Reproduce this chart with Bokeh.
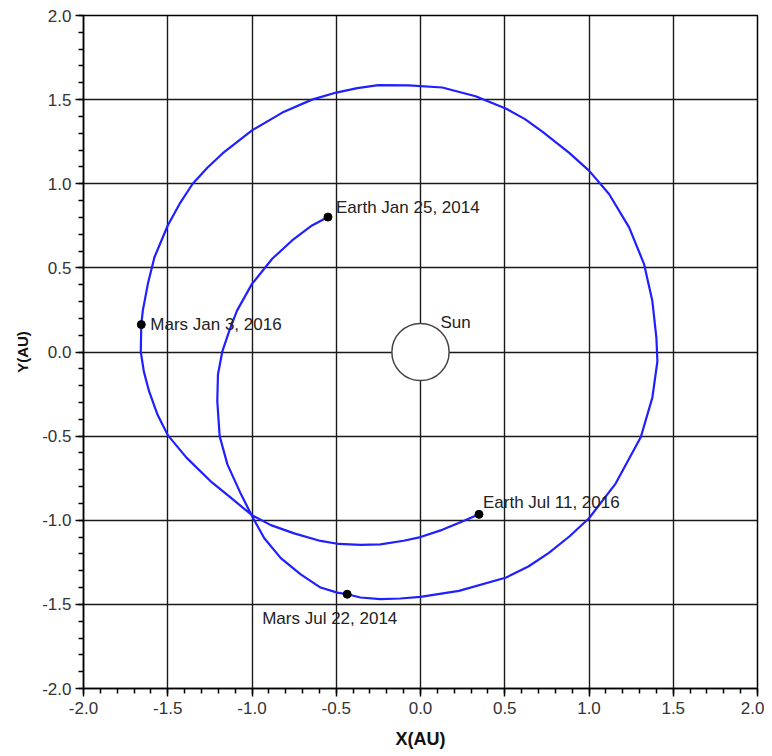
from bokeh.plotting import figure
from bokeh.models import ColumnDataSource, FixedTicker, LabelSet
from bokeh.embed import file_html
from bokeh.resources import INLINE
from bokeh.core.properties import value

# ---- data ----
traj_x = [-0.549, -0.644, -0.762, -0.880, -1.000, -1.089, -1.136, -1.176, -1.202, -1.206,
          -1.192, -1.146, -1.065, -1.000, -0.927, -0.829, -0.711, -0.593, -0.494, -0.435,
          -0.356, -0.238, -0.120, 0.000, 0.228, 0.509, 0.640, 0.762, 0.885, 1.000, 1.158, 1.307,
          1.376, 1.406, 1.400, 1.376, 1.327, 1.238, 1.119, 1.000, 0.881, 0.723, 0.620,
          0.509, 0.327, 0.129, -0.069, -0.250, -0.375, -0.500, -0.644, -0.820, -1.000, -1.175,
          -1.265, -1.352, -1.430,
          -1.500, -1.579, -1.618, -1.648, -1.657, -1.660, -1.642, -1.611, -1.561, -1.500,
          -1.389, -1.247, -1.126, -1.000, -0.888, -0.750, -0.593, -0.484, -0.356, -0.238,
          -0.100, 0.000, 0.129, 0.248, 0.347]
traj_y = [0.802, 0.752, 0.663, 0.554, 0.405, 0.246, 0.123, 0.004, -0.134, -0.292,
          -0.500, -0.668, -0.846, -0.975, -1.107, -1.225, -1.322, -1.400, -1.430, -1.440,
          -1.459, -1.469, -1.465, -1.455, -1.420, -1.340, -1.275, -1.194, -1.095, -0.988, -0.782, -0.507,
          -0.271, -0.055, 0.084, 0.303, 0.522, 0.741, 0.939, 1.078, 1.185, 1.310, 1.384,
          1.446, 1.520, 1.572, 1.585, 1.586, 1.568, 1.542, 1.500, 1.423, 1.317, 1.180,
          1.095, 1.000, 0.880,
          0.752, 0.563, 0.405, 0.246, 0.163, 0.000, -0.115, -0.233, -0.372, -0.494,
          -0.628, -0.767, -0.866, -0.970, -1.029, -1.078, -1.123, -1.141, -1.146, -1.143,
          -1.122, -1.100, -1.057, -1.008, -0.965]

event_names = ["Earth Jan 25, 2014", "Mars Jul 22, 2014", "Mars Jan 3, 2016", "Earth Jul 11, 2016"]
event_x = [-0.549, -0.435, -1.657, 0.347]
event_y = [0.802, -1.440, 0.163, -0.965]

sun_name = ["Sun"]
sun_x = [0.0]
sun_y = [0.0]
sun_r = [0.17]

tick_values = [-2.0, -1.5, -1.0, -0.5, 0.0, 0.5, 1.0, 1.5, 2.0]
tick_labels = ["-2.0", "-1.5", "-1.0", "-0.5", "0.0", "0.5", "1.0", "1.5", "2.0"]
minor_values = [round(-2.0 + 0.1 * i, 1) for i in range(41)]

# ---- figure ----
p = figure(output_backend="svg", toolbar_location=None,
           width=764, height=756,
           min_border_left=83, min_border_right=7, min_border_top=15, min_border_bottom=68,
           x_range=(-2, 2), y_range=(-2, 2),
           background_fill_color="white", border_fill_color="white")
p.outline_line_color = "black"
p.outline_line_width = 1.5

for ax in (p.xaxis[0], p.yaxis[0]):
    ax.ticker = FixedTicker(ticks=tick_values, minor_ticks=minor_values)
    ax.major_label_overrides = {v: s for v, s in zip(tick_values, tick_labels)}
    ax.axis_line_color = "black"
    ax.axis_line_width = 1.5
    ax.major_tick_line_color = "black"
    ax.major_tick_line_width = 1.5
    ax.minor_tick_line_color = "black"
    ax.minor_tick_line_width = 1.5
    ax.major_tick_out = 8
    ax.major_tick_in = 0
    ax.minor_tick_out = 5
    ax.minor_tick_in = 0
    ax.major_label_text_font = "Liberation Sans"
    ax.major_label_text_font_size = "17px"
    ax.major_label_text_color = "#333333"
    ax.axis_label_text_font = "Liberation Sans"
    ax.axis_label_text_font_style = "bold"
    ax.axis_label_text_color = "#111111"

p.xaxis.axis_label = "X(AU)"
p.xaxis.axis_label_text_font_size = "18px"
p.xaxis.major_label_standoff = 5
p.xaxis.axis_label_standoff = 12
p.yaxis.axis_label = "Y(AU)"
p.yaxis.axis_label_text_font_size = "15px"
p.yaxis.major_label_standoff = 4
p.yaxis.axis_label_standoff = 8

for g in (p.xgrid[0], p.ygrid[0]):
    g.ticker = FixedTicker(ticks=tick_values)
    g.grid_line_color = "#1a1a1a"
    g.grid_line_width = 1.4
    g.grid_line_alpha = 1.0

# trajectory
p.line(traj_x, traj_y, line_color="#1f1fff", line_width=2.2, line_join="round")

# Sun
sun_src = ColumnDataSource(dict(x=sun_x, y=sun_y, r=sun_r, name=sun_name))
p.circle(x="x", y="y", radius="r", source=sun_src, fill_color="white",
         line_color="#444444", line_width=1.5)
p.add_layout(LabelSet(x="x", y="y", text="name", source=sun_src, x_offset=20, y_offset=30,
                      text_font=value("Liberation Sans"), text_font_size="17px",
                      text_color="#222222", text_baseline="middle"))

# events
ev_src = ColumnDataSource(dict(x=event_x, y=event_y, name=event_names,
                               xo=[8, -85, 9, 4], yo=[10, -24, 0, 12]))
p.scatter(x="x", y="y", source=ev_src, size=8, color="black")
p.add_layout(LabelSet(x="x", y="y", text="name", source=ev_src, x_offset="xo", y_offset="yo",
                      text_font=value("Liberation Sans"), text_font_size="17px",
                      text_color="#222222", text_baseline="middle"))

open("out.html", "w").write(file_html(p, INLINE))
